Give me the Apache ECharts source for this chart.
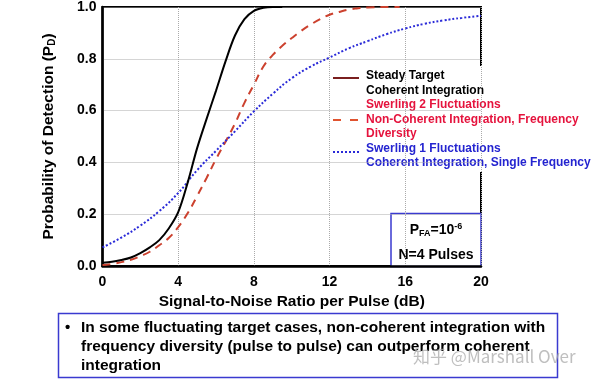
<!DOCTYPE html>
<html><head><meta charset="utf-8">
<script src="https://cdn.jsdelivr.net/npm/echarts@6/dist/echarts.min.js"></script>
<style>html,body{margin:0;padding:0;background:#fff}#c{width:600px;height:381px}</style>
</head><body><div id="c"></div>
<script>
// data: [SNR per pulse (dB), probability of detection]
var steadyTarget = [[0,0.013],[0.5,0.016],[1,0.023],[1.5,0.033],[2,0.05],[2.5,0.072],[3,0.1],[3.5,0.145],[4,0.208],[4.5,0.322],[5,0.455],[5.5,0.568],[6,0.677],[6.5,0.79],[7,0.89],[7.5,0.953],[8,0.985],[8.5,0.997],[9,1.0],[9.5,1.0]];
var swerling2 = [[0,0.004],[0.5,0.008],[1,0.015],[1.5,0.024],[2,0.038],[2.5,0.055],[3,0.08],[3.5,0.108],[4,0.15],[4.5,0.204],[5,0.27],[5.5,0.34],[6,0.413],[6.5,0.48],[7,0.55],[7.5,0.63],[8,0.70],[8.5,0.77],[9,0.815],[9.5,0.85],[10,0.88],[10.5,0.908],[11,0.932],[11.5,0.953],[12,0.97],[12.5,0.981],[13,0.99],[13.5,0.995],[14,0.998],[15,1.0],[15.7,1.0]];
var swerling1 = [[0,0.072],[1,0.11],[2,0.156],[3,0.212],[4,0.282],[5,0.37],[6,0.445],[7,0.52],[8,0.597],[9,0.665],[10,0.725],[11,0.77],[12,0.805],[13,0.84],[14,0.868],[15,0.895],[16,0.917],[17,0.935],[18,0.948],[19,0.958],[20,0.966]];
var xTicks = {min:0, max:20, interval:4};
var yTicks = {min:0, max:1, interval:0.2};
var legendLines = [
  {text:'Steady Target', color:'#000'},
  {text:'Coherent Integration', color:'#000'},
  {text:'Swerling 2 Fluctuations', color:'#e5133d'},
  {text:'Non-Coherent Integration, Frequency', color:'#e5133d'},
  {text:'Diversity', color:'#e5133d'},
  {text:'Swerling 1 Fluctuations', color:'#2424d0'},
  {text:'Coherent Integration, Single Frequency', color:'#2424d0'}
];
var noteLines = [
  'In some fluctuating target cases, non-coherent integration with',
  'frequency diversity (pulse to pulse) can outperform coherent',
  'integration'
];

var FONT = 'Liberation Sans, Arial, sans-serif';
var chart = echarts.init(document.getElementById('c'));

var legendChildren = [
  {type:'rect', shape:{x:328,y:66,width:272,height:106}, style:{fill:'#fff'}},
  {type:'line', shape:{x1:333,y1:78,x2:359,y2:78}, style:{stroke:'#7a1f1f',lineWidth:2}},
  {type:'line', shape:{x1:333,y1:120,x2:359,y2:120}, style:{stroke:'#e0532f',lineWidth:2,lineDash:[8,9]}},
  {type:'line', shape:{x1:333,y1:152,x2:359,y2:152}, style:{stroke:'#2a2ad8',lineWidth:2,lineDash:[2,2]}}
];
var ly = [76,90.5,105,119.5,134,148.5,163];
legendLines.forEach(function(l,i){
  legendChildren.push({type:'text', style:{x:366,y:ly[i],text:l.text,fill:l.color,font:'bold 12px '+FONT,verticalAlign:'middle'}});
});

var noteChildren = [
  {type:'rect', shape:{x:58.5,y:313.5,width:499,height:64}, style:{fill:'#fff',stroke:'#3a3ad0',lineWidth:1.5}},
  {type:'text', style:{x:65,y:328,text:'•',fill:'#000',font:'bold 15px '+FONT,verticalAlign:'middle'}}
];
var ny = [328,347,365.5];
noteLines.forEach(function(t,i){
  noteChildren.push({type:'text', style:{x:81,y:ny[i],text:t,fill:'#000',font:'bold 15.5px '+FONT,verticalAlign:'middle'}});
});

chart.setOption({
  animation:false,
  backgroundColor:'#fff',
  grid:{left:102.5, right:119, top:4, bottom:115, show:true, borderColor:'#000', borderWidth:2, backgroundColor:'transparent'},
  xAxis:{type:'value', min:xTicks.min, max:xTicks.max, interval:xTicks.interval,
    name:'Signal-to-Noise Ratio per Pulse (dB)', nameLocation:'middle', nameGap:27,
    nameTextStyle:{fontFamily:FONT, fontWeight:'bold', fontSize:15.5, color:'#000'},
    axisLine:{lineStyle:{color:'#000',width:2.5}}, axisTick:{show:false},
    axisLabel:{fontFamily:FONT, fontWeight:'bold', fontSize:14, color:'#000', margin:9},
    splitLine:{show:true, lineStyle:{color:'#aaaaaa', type:'dotted', width:1}}},
  yAxis:{type:'value', min:yTicks.min, max:yTicks.max, interval:yTicks.interval,
    name:'{a|Probability of Detection (P}{b|D}{a|)}', nameLocation:'middle', nameGap:45,
    nameTextStyle:{rich:{
      a:{fontFamily:FONT, fontWeight:'bold', fontSize:15.5, color:'#000'},
      b:{fontFamily:FONT, fontWeight:'bold', fontSize:10, color:'#000', padding:[8,0,0,0]}}},
    axisLine:{lineStyle:{color:'#000',width:2.5}}, axisTick:{show:false},
    axisLabel:{fontFamily:FONT, fontWeight:'bold', fontSize:14, color:'#000', margin:6,
      formatter:function(v){return v.toFixed(1);}},
    splitLine:{show:true, lineStyle:{color:'#aaaaaa', type:'dotted', width:1}}},
  series:[
    {name:'Steady Target', type:'line', data:steadyTarget, smooth:0.35, showSymbol:false,
      lineStyle:{color:'#000', width:2}, z:3},
    {name:'Swerling 2', type:'line', data:swerling2, smooth:true, showSymbol:false,
      lineStyle:{color:'#cc412e', width:2, type:[8,6]}, z:2},
    {name:'Swerling 1', type:'line', data:swerling1, smooth:true, showSymbol:false,
      lineStyle:{color:'#2a2ad8', width:2, type:[2,2]}, z:2}
  ],
  graphic:[
    {type:'group', z:100, children:legendChildren},
    {type:'group', z:100, children:[
      {type:'rect', shape:{x:391,y:213.5,width:90,height:53}, style:{fill:'#fff',stroke:'#3a3ad0',lineWidth:1.5}},
      {type:'text', style:{x:436,y:230,align:'center',verticalAlign:'middle',
        text:'{a|P}{s|FA}{a|=10}{p|-6}',
        rich:{a:{font:'bold 14px '+FONT,fill:'#000'},
              s:{font:'bold 9px '+FONT,fill:'#000',padding:[7,0,0,0]},
              p:{font:'bold 9px '+FONT,fill:'#000',padding:[0,0,7,0]}}}},
      {type:'text', style:{x:436,y:255,align:'center',verticalAlign:'middle',text:'N=4 Pulses',font:'bold 14px '+FONT,fill:'#000'}}
    ]},
    {type:'group', z:100, children:noteChildren},
    {type:'text', z:101, style:{x:413,y:357,verticalAlign:'middle',text:'知乎 @Marshall Over',
      font:'17px "Noto Sans CJK SC", sans-serif', fill:'rgba(170,170,170,0.75)'}}
  ]
});
</script></body></html>
